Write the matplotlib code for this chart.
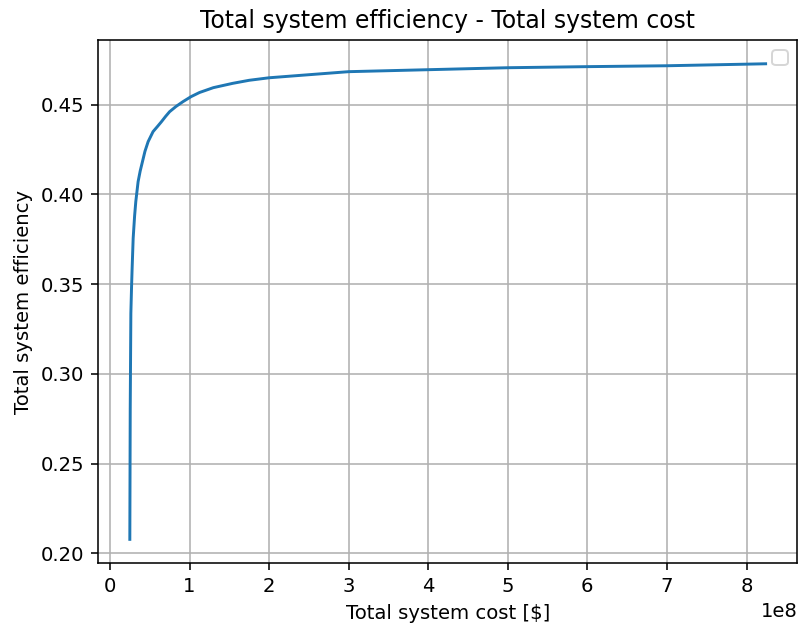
import matplotlib
matplotlib.use("Agg")
import matplotlib.pyplot as plt
import numpy as np

# total system cost [$] (in units of 1e8) and efficiency
cost = np.array([0.25, 0.255, 0.263, 0.272, 0.279, 0.292, 0.31, 0.325, 0.354,
                 0.38, 0.409, 0.44, 0.48, 0.542, 0.6, 0.647, 0.7, 0.75, 0.83,
                 0.918, 1.02, 1.126, 1.3, 1.543, 1.75, 2.0, 2.38, 3.0,
                 4.0, 5.0, 6.0, 7.0, 8.24]) * 1e8
efficiency = [0.2078, 0.28, 0.3338, 0.349, 0.3589, 0.3756, 0.388, 0.396,
              0.4071, 0.413, 0.4183, 0.424, 0.4294, 0.435, 0.438, 0.4405,
              0.4435, 0.4461, 0.449, 0.4517, 0.4545, 0.4568, 0.4595, 0.4619,
              0.4636, 0.4650, 0.4663, 0.4684, 0.4695, 0.4706, 0.4712, 0.4717,
              0.4728]

dpi = 141
fig, ax = plt.subplots(figsize=(799 / dpi, 625 / dpi), dpi=dpi)
fig.subplots_adjust(left=0.1227, right=0.998, top=0.936, bottom=0.099)

ax.plot(cost, efficiency)
ax.set_title("Total system efficiency - Total system cost")
ax.set_xlabel("Total system cost [$]")
ax.set_ylabel("Total system efficiency")
ax.grid(True)
ax.legend()

fig.savefig("out.png")
